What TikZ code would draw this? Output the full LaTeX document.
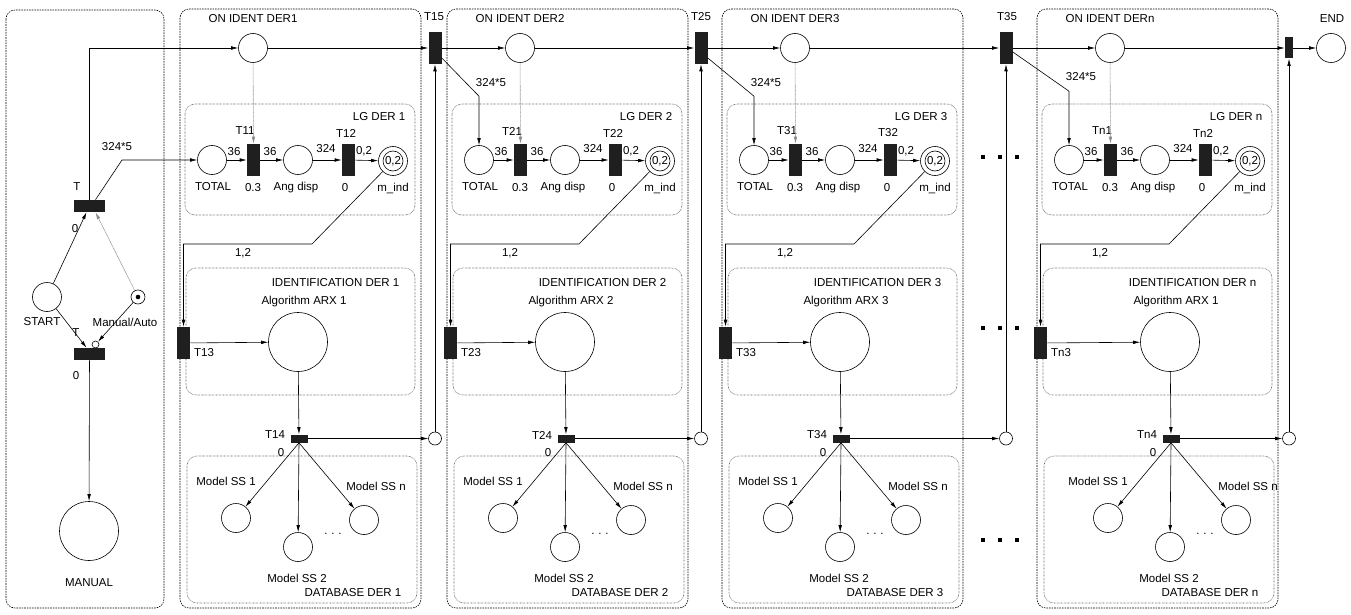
\documentclass[tikz,border=0pt]{standalone}
\usepackage{fontspec}
\setmainfont{Liberation Sans}
\usetikzlibrary{arrows.meta,calc,positioning}

\begin{document}
\begin{tikzpicture}[x=1pt,y=-1pt,>={Latex[length=7pt,width=3.6pt]},
  font=\fontsize{11.5}{13}\selectfont,line width=0.6pt,
  place/.style={circle,draw,minimum size=29pt,inner sep=0pt},
  bigplace/.style={circle,draw,minimum size=59pt,inner sep=0pt},
  smallplace/.style={circle,draw,minimum size=13pt,inner sep=0pt},
  trans/.style={rectangle,fill=black!88,minimum width=13pt,minimum height=32pt,inner sep=0pt},
  htrans/.style={rectangle,fill=black!88,minimum width=31pt,minimum height=12pt,inner sep=0pt},
  ltrans/.style={rectangle,fill=black!88,minimum width=17pt,minimum height=8pt,inner sep=0pt},
  panel/.style={draw,dash pattern=on 1.6pt off 1pt,rounded corners=9pt},
  subnet/.style={draw=black!65,dash pattern=on 0.6pt off 0.8pt,rounded corners=10pt},
  ctrl/.style={draw=black!45,dash pattern=on 0.8pt off 0.5pt}]
  \useasboundingbox (0,0) rectangle (1351,615);

  % manual / auto part
  \draw[panel] (6,10) rectangle (164,608);
  \node[place] (start) at (47,297) {};
  \node (lstart) at (42,322) {START};
  \node[circle,draw,minimum size=14pt,inner sep=0pt] (mauto) at (138,297) {};
  \fill (mauto) circle (2.3pt);
  \node (lmauto) at (125,322) {Manual/Auto};
  \node[htrans] (tup) at (89.5,206) {};
  \node (ltup) at (77,187) {T};
  \node (ltup0) at (75,229) {0};
  \node[htrans] (tlo) at (89.5,354) {};
  \node (ltlo) at (76,333) {T};
  \node (ltlo0) at (76,376) {0};
  \node[circle,draw,fill=white,minimum size=7pt,inner sep=0pt] (inh) at (95.5,344.5) {};
  \node[bigplace] (manual) at (89,531) {};
  \node (lmanual) at (89,583) {MANUAL};
  \draw[->] (start) -- ($(tup.south)+(-3,0)$);
  \draw[->,ctrl] (mauto) -- ($(tup.south)+(6,0)$);
  \draw[->] (start) -- ($(tlo.north)+(-3,0)$);
  \draw[->] (mauto) -- (inh);
  \draw[->] (tlo) -- (manual);

  % one panel for each derivation
  \foreach \i/\ox/\sx/\tx/\a in {1/0/0/435/1, 2/267/0/434/2, 3/542/0/464/3, n/857/15/432/1}{
  \begin{scope}[xshift=\ox pt]
    \draw[panel] (180,9) rectangle (421,608);
    \draw[subnet] (185,104) rectangle (415,215);
    \draw[subnet] (186,268) rectangle (415,395);
    \draw[subnet] (187,456) rectangle (417,603);
    \node[anchor=east] (llg\i) at (409,117) {LG DER \i};
    \node[anchor=east] (lid\i) at (403,283) {IDENTIFICATION DER \i};
    \node[anchor=east] (ldb\i) at (405,593) {DATABASE DER \i};
    \node[place] (on\i) at (253,48) {};
    \node (lon\i) at (253,19) {ON IDENT DER\i};
    % LG row
    \node[place] (tot\i) at (212,160) {};
    \node[trans] (ta\i) at (253.5,160) {};
    \node[place] (ang\i) at (298,160) {};
    \node[trans] (tb\i) at (348.5,160) {};
    \node[place] (mind\i) at (393,161) {};
    \node[circle,draw,minimum size=20pt,inner sep=0pt] (tok\i) at (mind\i) {0,2};
    \node (lta\i) at (245,131) {T\i1};
    \node (ltb\i) at (346,133) {T\i2};
    \node (ltot\i) at (213,187) {TOTAL};
    \node (lta0\i) at (253,188) {0.3};
    \node (lang\i) at (296,188) {Ang disp};
    \node (ltb0\i) at (345,188) {0};
    \node (lmind\i) at (393,188) {m\_ind};
    \node (wa\i) at (234,152) {36};
    \node (wb\i) at (270,152) {36};
    \node (wc\i) at (326,149) {324};
    \node (wd\i) at (364,151) {0,2};
    \draw[->] (tot\i) -- (ta\i);
    \draw[->] (ta\i) -- (ang\i);
    \draw[->] (ang\i) -- (tb\i);
    \draw[->] (tb\i) -- (mind\i);
    \draw[->,ctrl] (on\i) -- (ta\i.north);
    % identification
    \node[trans] (tc\i) at (183.5,343) {};
    \node (ltc\i) at (204,353) {T\i3};
    \node[bigplace] (arx\i) at (298+\sx,342) {};
    \node (larx\i) at (304+\sx,302) {Algorithm ARX \a};
    \node (we\i) at (243,253) {1,2};
    \draw[->] (mind\i) -- (312,244) -| (tc\i);
    \draw[->] (tc\i) -- (arx\i);
    % database
    \node[ltrans] (td\i) at (299+\sx,438.5) {};
    \node (ltd\i) at (275+\sx,435) {T\i4};
    \node (ltd0\i) at (281+\sx,453) {0};
    \node[smallplace] (sc\i) at (\tx,438.5) {};
    \node[place] (ma\i) at (236+\sx,518) {};
    \node[place] (mb\i) at (298+\sx,547) {};
    \node[place] (mc\i) at (364+\sx,520) {};
    \node (lma\i) at (226+\sx,481) {Model SS 1};
    \node (lmb\i) at (297+\sx,578) {Model SS 2};
    \node (lmc\i) at (376+\sx,486) {Model SS n};
    \node (dots\i) at (333+\sx,534) {.\,\,.\,\,.};
    \draw[->] (arx\i) -- (td\i);
    \draw[->] (td\i) -- (sc\i);
    \foreach \m in {a,b,c}
      \draw[->] (td\i.south) -- (m\m\i);
  \end{scope}}

  % transitions between the panels
  \node[trans] (tx1) at (435,48) {};
  \node[trans] (tx2) at (701,48) {};
  \node[trans] (tx3) at (1006,48) {};
  \node[trans,minimum width=8pt,minimum height=21pt] (txn) at (1289,48) {};
  \node (ltx1) at (434,17) {T15};
  \node (ltx2) at (701,17) {T25};
  \node (ltx3) at (1007,17) {T35};
  \node[place] (endp) at (1331,48) {};
  \node (lendp) at (1332,19) {END};
  \foreach \i in {1,2,3,n}
    \draw[->] (sc\i) -- (tx\i);

  \draw[->] (tup) |- (on1);
  \draw[->] (on1) -- (tx1);
  \draw[->] (tx1) -- (on2);
  \draw[->] (on2) -- (tx2);
  \draw[->] (tx2) -- (on3);
  \draw[->] (on3) -- (tx3);
  \draw[->] (tx3) -- (onn);
  \draw[->] (onn) -- (txn);
  \draw[->] (txn) -- (endp);

  \draw[->] (tup.north) ++(6,0) -- (122,160) -- (tot1);
  \node (lk1) at (117,147) {324*5};
  \draw[->] (tx1.east) ++(0,10) -- ($(tot2.north)+(0,-49)$) -- (tot2);
  \node (lk2) at (491,83) {324*5};
  \draw[->] (tx2.east) ++(0,10) -- ($(tot3.north)+(0,-49)$) -- (tot3);
  \node (lk3) at (766,83) {324*5};
  \draw[->] (tx3.east) ++(0,4) -- ($(totn.north)+(0,-54)$) -- (totn);
  \node (lk4) at (1081,77) {324*5};

  % continuation marks
  \foreach \yy in {157,328,540}
    \foreach \xx in {983,1000,1017}
      \fill (\xx-2,\yy-2) rectangle ++(4,4);
\end{tikzpicture}
\end{document}
